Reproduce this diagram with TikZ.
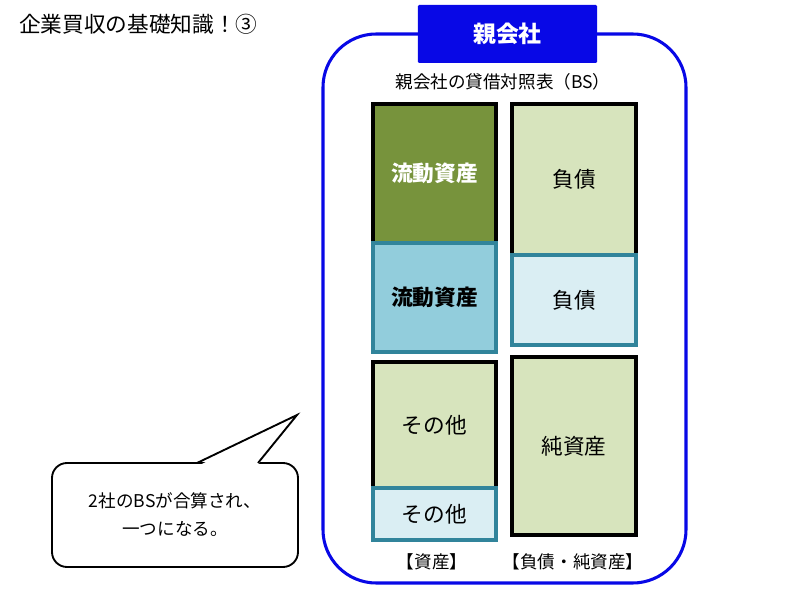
\documentclass[tikz,border=0pt]{standalone}
\usepackage{fontspec}
\setmainfont{Noto Sans CJK JP}
\usepackage{xcolor}
\usepackage{tikz}
\usetikzlibrary{positioning}

\definecolor{oyablue}{RGB}{8,8,230}
\definecolor{olive}{RGB}{119,147,60}
\definecolor{palegreen}{RGB}{215,228,189}
\definecolor{midblue}{RGB}{146,205,220}
\definecolor{paleblue}{RGB}{218,238,243}
\definecolor{tealline}{RGB}{49,132,155}

\begin{document}
\begin{tikzpicture}[x=0.03cm, y=-0.03cm,
    bsbox/.style={draw=black, line width=2.6pt, inner sep=0pt, minimum width=3.69cm},
    tealbox/.style={bsbox, draw=tealline},
    boxtext/.style={font=\fontsize{18.5}{22}\selectfont},
    boldtext/.style={font=\fontsize{18.5}{22}\selectfont\bfseries},
    caption/.style={font=\fontsize{15}{18}\selectfont}]
      \useasboundingbox (0,0) rectangle (800,600);

      \node[anchor=west, font=\fontsize{18.5}{22}\selectfont] (title) at (15,24) {企業買収の基礎知識！③};

      \node[draw=oyablue, line width=2.6pt, rounded corners=1.6cm,
            minimum width=10.89cm, minimum height=16.47cm] (frame) at (504.5,308.5) {};
      \node[fill=oyablue, rounded corners=1pt, minimum width=5.37cm, minimum height=1.74cm,
            text=white, font=\fontsize{19.5}{22}\selectfont\bfseries] (oya) at (507.5,34) {親会社};
      \node[caption] (sub) at (503,82) {親会社の貸借対照表（BS）};

      \node[bsbox, fill=olive, minimum height=4.17cm, text=white, boldtext] (ca1) at (434.5,173.5) {流動資産};
      \node[tealbox, fill=midblue, minimum height=3.27cm, boldtext] (ca2) at (434.5,297.5) {流動資産};
      \node[bsbox, fill=palegreen, minimum height=3.78cm, boxtext] (ot1) at (434.5,425) {その他};
      \node[tealbox, fill=paleblue, minimum height=1.56cm, boxtext] (ot2) at (434.5,514) {その他};

      \node[bsbox, fill=palegreen, minimum width=3.72cm, minimum height=4.53cm, boxtext] (li1) at (574,179.5) {負債};
      \node[tealbox, fill=paleblue, minimum width=3.72cm, minimum height=2.7cm, boxtext] (li2) at (574,300) {負債};
      \node[bsbox, fill=palegreen, minimum width=3.72cm, minimum height=5.34cm, boxtext] (eq) at (574,446) {純資産};

      \node[caption] (asset) at (432,562) {【資産】};
      \node[caption] (debt) at (573,562) {【負債・純資産】};

      \node[draw, line width=1.6pt, fill=white, rounded corners=0.45cm,
            minimum width=7.38cm, minimum height=3.12cm, align=center,
            font=\fontsize{15}{24}\selectfont] (msg) at (175,515) {2社のBSが合算され、\\一つになる。};
      \coordinate (tip) at (297,415);
      \fill[white] (198,466) -- (tip) -- (257,466) -- cycle;
      \draw[line width=1.6pt, line join=miter] (197,463) -- (tip) -- (258,463);
    \end{tikzpicture}
\end{document}
